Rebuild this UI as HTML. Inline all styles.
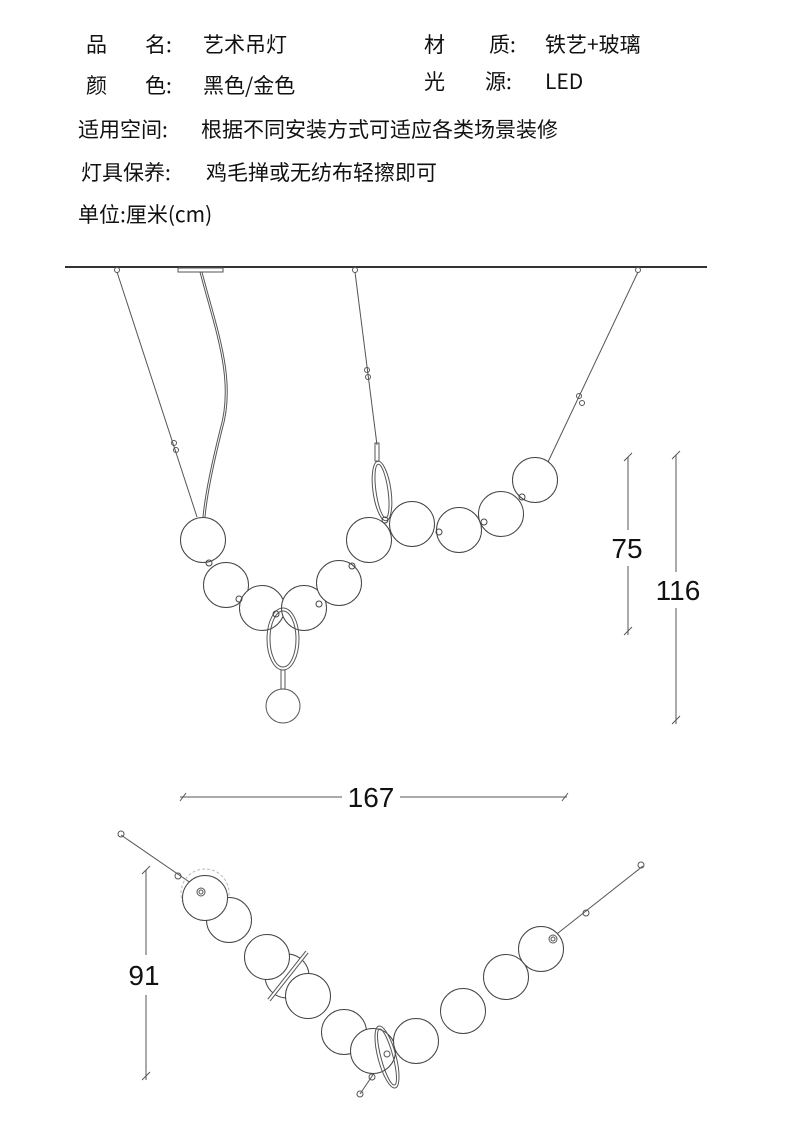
<!DOCTYPE html>
<html><head><meta charset="utf-8"><style>
body{margin:0;background:#fff;}
svg{display:block}
.t{font-family:"Noto Sans CJK SC","Liberation Sans",sans-serif;font-size:21px;fill:#111}
.d{font-family:"Liberation Sans",sans-serif;font-size:28px;fill:#111}
</style></head><body>
<svg width="790" height="1144" viewBox="0 0 790 1144" xmlns="http://www.w3.org/2000/svg">
<g class="t">
<text x="86" y="52">品</text><text x="145" y="52">名:</text><text x="203" y="52">艺术吊灯</text>
<text x="424" y="52">材</text><text x="489" y="52">质:</text><text x="545" y="52">铁艺+玻璃</text>
<text x="86" y="93">颜</text><text x="145" y="93">色:</text><text x="203" y="93">黑色/金色</text>
<text x="424" y="89">光</text><text x="485" y="89">源:</text><text x="545" y="89">LED</text>
<text x="78" y="137">适用空间:</text><text x="201" y="137">根据不同安装方式可适应各类场景装修</text>
<text x="81" y="180">灯具保养:</text><text x="206" y="180">鸡毛掸或无纺布轻擦即可</text>
<text x="78" y="222">单位:厘米(cm)</text>
</g>
<line x1="65" y1="267" x2="707" y2="267" stroke="#333" stroke-width="2"/>
<rect x="178" y="268" width="45" height="4" fill="none" stroke="#555" stroke-width="1"/>
<g stroke="#555" fill="none" stroke-width="1">
<circle cx="117" cy="270" r="2.5"/><circle cx="355" cy="270" r="2.5"/><circle cx="638" cy="270" r="2.5"/>
<line x1="117" y1="272" x2="197" y2="517"/>
<circle cx="174" cy="443" r="2.5"/><circle cx="176" cy="450" r="2.5"/>
<path d="M200 272 C215 330 235 380 220 430 C210 470 205 495 203 517"/>
<path d="M202 272 C217 330 237 380 222 430 C212 470 207 495 205 517"/>
<line x1="355" y1="272" x2="377" y2="445"/>
<circle cx="367" cy="370" r="2.5"/><circle cx="368" cy="377" r="2.5"/>
<line x1="638" y1="272" x2="548" y2="462"/>
<circle cx="579" cy="396" r="2.5"/><circle cx="582" cy="403" r="2.5"/>
<rect x="375" y="443" width="4" height="18"/>
<ellipse cx="382" cy="491" rx="9" ry="30" transform="rotate(-8 382 491)"/>
<ellipse cx="382" cy="491" rx="6" ry="27" transform="rotate(-8 382 491)"/>
<g fill="#fff" stroke="#444">
<circle cx="203" cy="540" r="22.5"/><circle cx="226" cy="585" r="22.5"/>
<circle cx="262" cy="608" r="22.5"/><circle cx="304" cy="608" r="22.5"/>
<circle cx="339" cy="583" r="22.5"/><circle cx="369" cy="540" r="22.5"/>
<circle cx="412" cy="524" r="22.5"/><circle cx="459" cy="530" r="22.5"/>
<circle cx="501" cy="514" r="22.5"/><circle cx="535" cy="480" r="22.5"/>
</g>
<ellipse cx="283" cy="639" rx="16" ry="31"/><ellipse cx="283" cy="639" rx="13" ry="28"/>
<rect x="281" y="670" width="4" height="19"/>
<circle cx="283" cy="706" r="17"/>
<g stroke="#444"><circle cx="209" cy="563" r="3"/><circle cx="239" cy="599" r="3"/><circle cx="319" cy="604" r="3"/><circle cx="352" cy="566" r="3"/><circle cx="385" cy="520" r="3"/><circle cx="439" cy="532" r="3"/><circle cx="484" cy="522" r="3"/><circle cx="522" cy="497" r="3"/><circle cx="276" cy="614" r="3"/></g>
</g>
<g stroke="#555" stroke-width="1">
<line x1="628" y1="457" x2="628" y2="530"/><line x1="628" y1="566" x2="628" y2="635"/>
<line x1="624" y1="461" x2="632" y2="453"/><line x1="624" y1="635" x2="632" y2="627"/>
<line x1="676" y1="455" x2="676" y2="572"/><line x1="676" y1="608" x2="676" y2="724"/>
<line x1="672" y1="459" x2="680" y2="451"/><line x1="672" y1="724" x2="680" y2="716"/>
<line x1="180" y1="797" x2="342" y2="797"/><line x1="400" y1="797" x2="567" y2="797"/>
<line x1="180" y1="801" x2="186" y2="793"/><line x1="562" y1="801" x2="568" y2="793"/>
<line x1="146" y1="870" x2="146" y2="955"/><line x1="146" y1="995" x2="146" y2="1080"/>
<line x1="142" y1="874" x2="150" y2="866"/><line x1="142" y1="1080" x2="150" y2="1072"/>
</g>
<text class="d" x="627" y="558" text-anchor="middle">75</text>
<text class="d" x="678" y="600" text-anchor="middle">116</text>
<text class="d" x="371" y="807" text-anchor="middle">167</text>
<text class="d" x="144" y="985" text-anchor="middle">91</text>
<g stroke="#555" fill="none" stroke-width="1">
<line x1="121" y1="835" x2="201" y2="890"/><circle cx="121" cy="834" r="3"/><circle cx="178" cy="876" r="3"/>
<line x1="643" y1="866" x2="553" y2="937"/><circle cx="641" cy="865" r="3"/><circle cx="586" cy="913" r="3"/>
<line x1="360" y1="1094" x2="387" y2="1054"/><circle cx="360" cy="1094" r="3"/><circle cx="372" cy="1077" r="3"/>
<circle cx="205" cy="893" r="24" stroke="#bbb" stroke-dasharray="3 2"/>
<g fill="#fff" stroke="#444">
<circle cx="229" cy="920" r="22.5"/>
<circle cx="205" cy="898" r="22.5"/>
<circle cx="287" cy="976" r="22"/>
<circle cx="267" cy="957" r="22.5"/><circle cx="308" cy="996" r="22.5"/>
<circle cx="344" cy="1032" r="22.5"/><circle cx="373" cy="1051" r="22.5"/>
<circle cx="416" cy="1041" r="22.5"/><circle cx="463" cy="1011" r="22.5"/>
<circle cx="506" cy="977" r="22.5"/><circle cx="541" cy="949" r="22.5"/>
</g>
<circle cx="201" cy="892" r="4"/><circle cx="201" cy="892" r="2"/>
<circle cx="553" cy="939" r="4"/><circle cx="553" cy="939" r="2"/>
<line x1="307" y1="952" x2="269" y2="1000" stroke-width="4" stroke="#555"/>
<line x1="307" y1="952" x2="269" y2="1000" stroke-width="2" stroke="#fff"/>
<ellipse cx="387" cy="1057" rx="9" ry="32" transform="rotate(-15 387 1057)"/>
<ellipse cx="387" cy="1057" rx="6" ry="29" transform="rotate(-15 387 1057)"/>
<circle cx="387" cy="1054" r="3"/>
</g>
</svg>
</body></html>
